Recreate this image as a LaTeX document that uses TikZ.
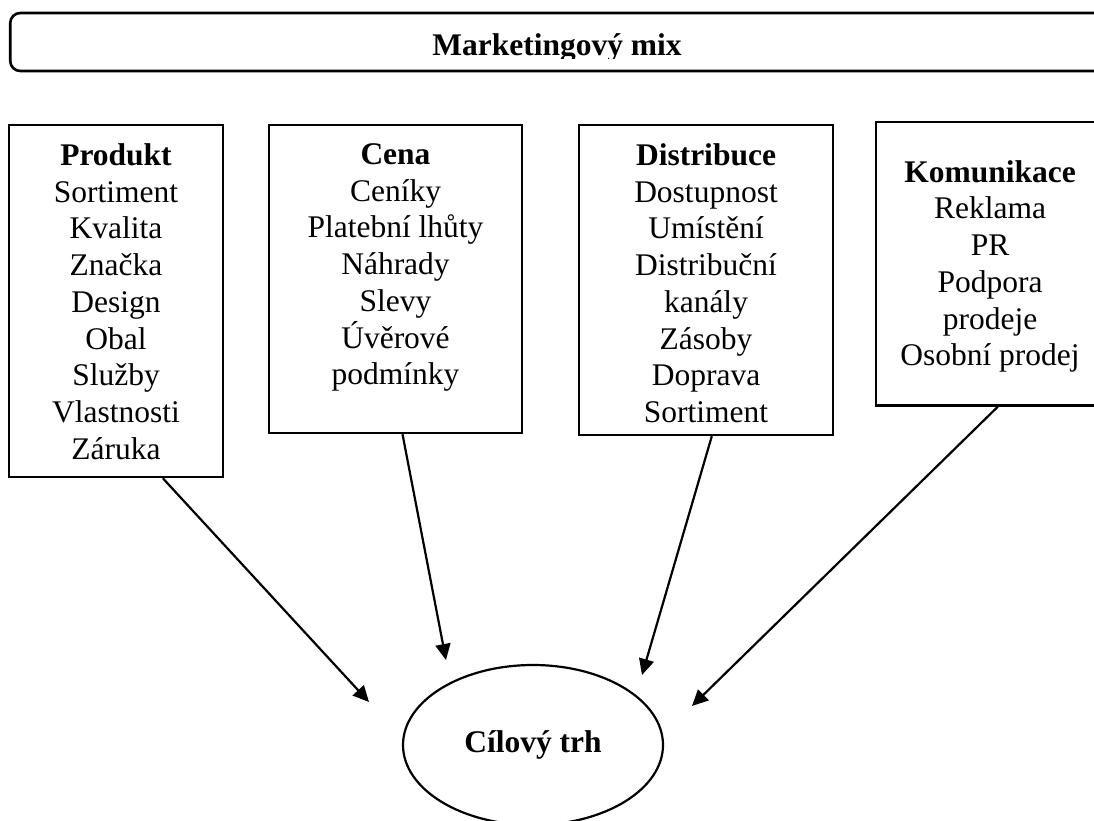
\documentclass[tikz,border=0pt]{standalone}
\usepackage{fontspec}
\setmainfont{Liberation Serif}
\usetikzlibrary{arrows.meta,shapes.geometric,calc}
\begin{document}
\begin{tikzpicture}[x=1pt,y=-1pt,
  box/.style={draw,line width=2.4pt,rectangle,inner sep=0pt},
  txt/.style={font=\fontsize{31.5}{36.7}\selectfont,align=center,inner sep=0pt,anchor=north},
  arr/.style={line width=2.2pt,-{Triangle[length=16pt,width=15pt]}}]
\useasboundingbox (0,0) rectangle (1094,821);
% title frame
\node[draw,line width=2.6pt,rounded corners=10pt,minimum width=1109.5pt,minimum height=58pt,inner sep=0pt] (mixbox) at (565,42) {};
\begin{scope}
\clip (0,0) rectangle (1094,58.5);
\node[font=\fontsize{31.5}{36.7}\selectfont\bfseries,anchor=base,inner sep=0pt] (title) at (557,55.7) {Marketingový mix};
\end{scope}
% boxes
\node[box,minimum width=214pt,minimum height=352pt] (prod) at (116,301) {};
\node[box,minimum width=253pt,minimum height=308pt] (cena) at (395.5,279) {};
\node[box,minimum width=254pt,minimum height=310pt] (dist) at (706,280) {};
\node[box,minimum width=228pt,minimum height=283.5pt] (kom) at (990,263.75) {};
% texts
\node[txt] (prodt) at (116,143.5) {\textbf{Produkt}\\Sortiment\\Kvalita\\Značka\\Design\\Obal\\Služby\\Vlastnosti\\Záruka};
\node[txt] (cenat) at (395.5,143.5) {\textbf{Cena}\\Ceníky\\Platební lhůty\\Náhrady\\Slevy\\Úvěrové\\podmínky};
\node[txt] (distt) at (706,143.5) {\textbf{Distribuce}\\Dostupnost\\Umístění\\Distribuční\\kanály\\Zásoby\\Doprava\\Sortiment};
\node[txt] (komt) at (990,160.2) {\textbf{Komunikace}\\Reklama\\PR\\Podpora\\prodeje\\Osobní prodej};
% target
\node[draw,ellipse,line width=2.2pt,minimum width=260pt,minimum height=160pt,inner sep=0pt,font=\fontsize{31.5}{36.7}\selectfont\bfseries] (trh) at (533,745) {Cílový trh};
% arrow ends
\coordinate (t1) at (369,702);
\coordinate (t2) at (446,660);
\coordinate (t3) at (642,675);
\coordinate (t4) at (692,706);
\draw[arr] ($(prod.south west)+(155,0)$) -- (t1);
\draw[arr] ($(cena.south west)+(134.7,0)$) -- (t2);
\draw[arr] ($(dist.south west)+(134,0)$) -- (t3);
\draw[arr] ($(kom.south west)+(123,0)$) -- (t4);
\end{tikzpicture}
\end{document}
